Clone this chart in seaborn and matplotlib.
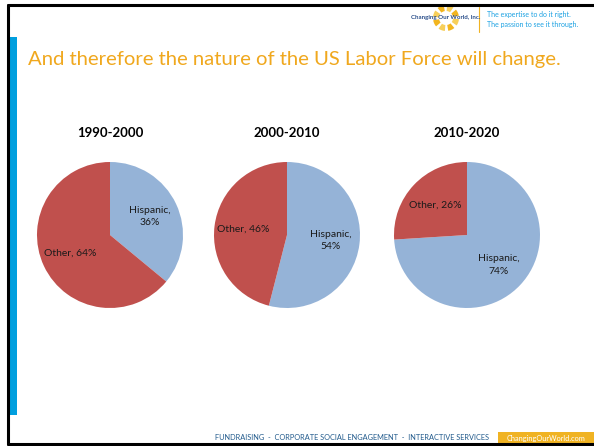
import numpy as np
import matplotlib
matplotlib.use("Agg")
import matplotlib.pyplot as plt
import seaborn as sns
from matplotlib.patches import Rectangle, Wedge

# --- data ---
periods = ["1990-2000", "2000-2010", "2010-2020"]
groups = ["Hispanic", "Other"]
hispanic_pct = [36, 54, 74]
other_pct = [64, 46, 26]

title_text = "And therefore the nature of the US Labor Force will change."
footer_text = "FUNDRAISING  -  CORPORATE SOCIAL ENGAGEMENT  -  INTERACTIVE SERVICES"
footer_site = "ChangingOurWorld.com"
tagline = ["The expertise to do it right.", "The passion to see it through."]

sns.set_theme(style="white")
plt.rcParams["font.family"] = ["Lato", "DejaVu Sans"]

pie_colors = ["#95B3D7", "#C0504D"]
W, H = 594, 446
fig = plt.figure(figsize=(W / 100, H / 100), dpi=100)
fig.patch.set_facecolor("white")

# slide decorations (pixel coordinates -> figure fraction)
def px(x, y):
    return x / W, 1 - y / H

bg = fig.add_axes([0, 0, 1, 1])
bg.set_xlim(0, W)
bg.set_ylim(H, 0)
bg.axis("off")
bg.add_patch(Rectangle((9, 37), 8, 378, color="#009FDF", lw=0))
bg.plot([8, W], [5, 5], color="black", lw=2.2)
bg.plot([8, 8], [5, 444], color="black", lw=2.2)
bg.plot([8, W], [444, 444], color="black", lw=2.2)
bg.plot([479, 479], [7, 32], color="#F0B323", lw=0.8)
bg.text(28, 60, title_text, color="#F0A81E", fontsize=14.6, va="center", ha="left")

# tagline + logo
bg.text(487, 15, tagline[0], color="#1BA1E2", fontsize=5, va="center")
bg.text(487, 25, tagline[1], color="#1BA1E2", fontsize=5, va="center")
for k in range(8):
    a = k * 45
    bg.add_patch(Wedge((446, 18), 13, a + 5, a + 35, width=6,
                       color="#F2B51E" if k % 2 else "#F7CF5A", lw=0))
bg.text(446, 17, "Changing Our World, Inc.", color="#2A4E8A", fontsize=4.4,
        ha="center", va="center", fontweight="bold")

# footer
bg.text(215, 438, footer_text, color="#215A8C", fontsize=5.3, va="center")
bg.add_patch(Rectangle((498, 432), 96, 11, color="#F0B323", lw=0))
bg.text(546, 438, footer_site, color="white", fontsize=5.3, va="center", ha="center")

# pies
centers = [110, 287, 467]
r = 73
cy = 235
for i, cx in enumerate(centers):
    ax = fig.add_axes([(cx - r) / W, (H - cy - r) / H, 2 * r / W, 2 * r / H])
    vals = [hispanic_pct[i], other_pct[i]]
    labels = [f"{groups[0]},\n{vals[0]}%", f"{groups[1]}, {vals[1]}%"]
    wedges, texts = ax.pie(vals, colors=pie_colors, startangle=90, counterclock=False,
                           labels=labels, labeldistance=0.6,
                           wedgeprops=dict(linewidth=0),
                           textprops=dict(fontsize=7.5, color="#1a1a1a"))
    for t in texts:
        t.set_ha("center")
        t.set_va("center")
        t.set_multialignment("center")
        t.set_linespacing(1.45)
    ax.set_xlim(-1, 1)
    ax.set_ylim(-1, 1)
    ax.set_aspect("equal")
    fx, fy = px(cx, 133)
    fig.text(fx, fy, periods[i], fontsize=9.5, fontweight="bold", ha="center",
             va="center", color="black")

fig.savefig("out.png", dpi=100)
